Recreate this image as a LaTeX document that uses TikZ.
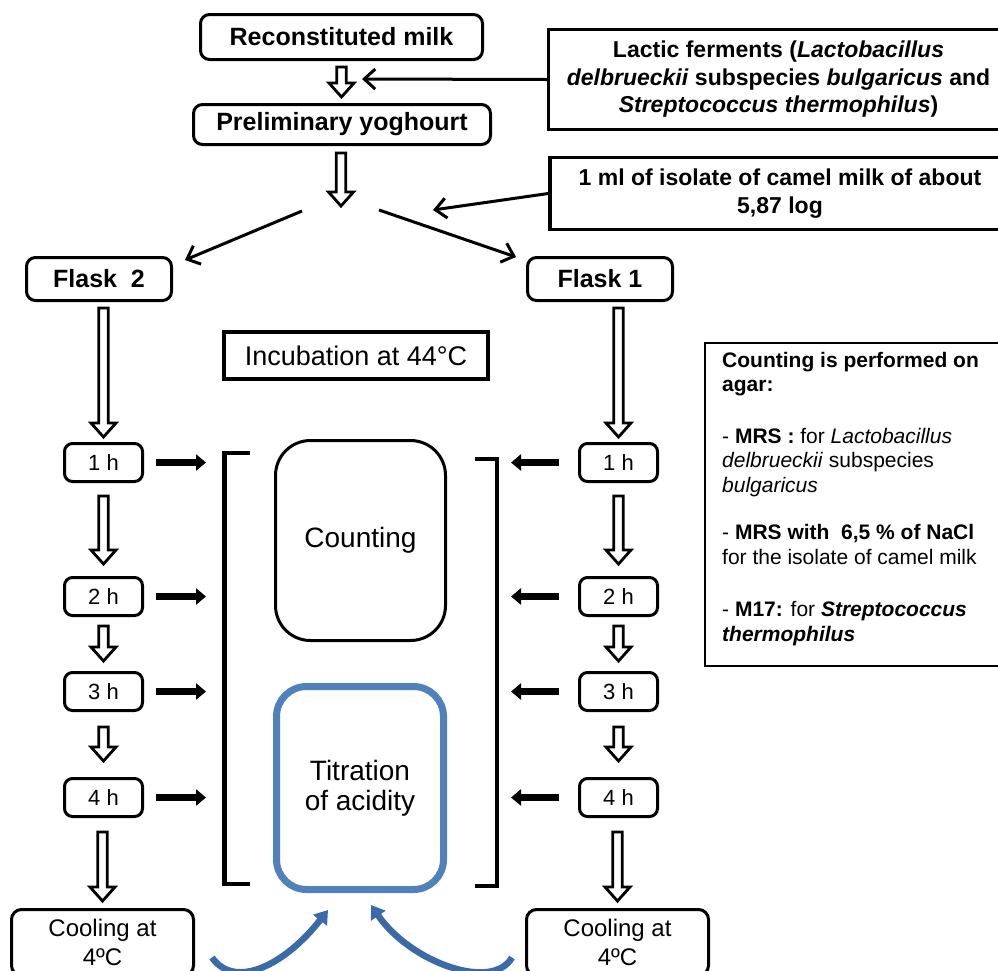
\documentclass[tikz,border=0pt]{standalone}
\usepackage{fontspec}
\setmainfont{Liberation Sans}
\usetikzlibrary{arrows.meta,calc}
\definecolor{titblue}{HTML}{4F81BD}
\definecolor{arrblue}{HTML}{3A6BA8}
\newcommand\hollowarr[2]{%
  \draw[hollow] let \p1=#1, \p2=#2 in
   (\x2-4.75pt,\y1) -- (\x2+4.75pt,\y1) -- (\x2+4.75pt,\y2+14pt) -- (\x2+12.5pt,\y2+14pt)
   -- (\x2,\y2) -- (\x2-12.5pt,\y2+14pt) -- (\x2-4.75pt,\y2+14pt) -- cycle;}
\begin{document}
\begin{tikzpicture}[x=1pt,y=-1pt,
  rbox/.style={draw, line width=3, rounded corners=9, inner sep=0, align=center},
  sbox/.style={draw, line width=3.5, inner sep=0, align=center},
  big/.style={font=\bfseries\fontsize{25}{30}\selectfont},
  mid/.style={font=\bfseries\fontsize{23}{27.5}\selectfont},
  hbox/.style={rbox, rounded corners=8, minimum width=78, minimum height=38, font=\fontsize{22}{26}\selectfont},
  coolbox/.style={rbox, rounded corners=10, minimum width=182, minimum height=66, font=\fontsize{24}{29}\selectfont},
  hollow/.style={draw, fill=white, line width=2.8, line join=miter},
  thinarrow/.style={draw, line width=3, -{Straight Barb[length=11pt,width=20pt]}},
  side/.style={draw, line width=7, -{Triangle[length=10pt,width=16pt]}},
  bluearrow/.style={draw=arrblue, line width=6.5, -{Triangle[length=13pt,width=17pt]}},
  bracket/.style={draw, line width=4.5, line join=miter}]
\useasboundingbox (0,0) rectangle (998,970);
\clip (0,0) rectangle (998,970);

% top boxes
\node[rbox, big, minimum width=282, minimum height=45] (rm) at (341.5,37) {Reconstituted milk};
\node[rbox, big, minimum width=297, minimum height=40] (py) at (342,124.5) {Preliminary yoghourt};
\node[sbox, mid, minimum width=460, minimum height=100] (lf) at (778.5,79.5)
  {Lactic ferments (\textit{Lactobacillus}\\\textit{delbrueckii} subspecies \textit{bulgaricus} and\\\textit{Streptococcus thermophilus})};
\node[sbox, mid, minimum width=460, minimum height=72] (iso) at (780,193.5)
  {1 ml of isolate of camel milk of about\\5,87 log};

\node[rbox, big, minimum width=145, minimum height=43] (f2) at (99,279) {Flask\ \ 2};
\node[rbox, big, minimum width=145, minimum height=43] (f1) at (600,279) {Flask 1};

\node[sbox, font=\fontsize{27}{32}\selectfont, minimum width=264, minimum height=47] (inc) at (356,355.5) {Incubation at 44°C};

% hour boxes
\node[hbox] (l1) at (103.5,462.5) {1 h};
\node[hbox] (l2) at (103.5,596.5) {2 h};
\node[hbox] (l3) at (103.5,691.5) {3 h};
\node[hbox] (l4) at (103.5,797.5) {4 h};
\node[hbox] (r1) at (618.5,462.5) {1 h};
\node[hbox] (r2) at (618.5,596.5) {2 h};
\node[hbox] (r3) at (618.5,691.5) {3 h};
\node[hbox] (r4) at (618.5,797.5) {4 h};

\node[coolbox] (cL) at (102.5,942.5) {Cooling at\\4ºC};
\node[coolbox] (cR) at (617.5,942.5) {Cooling at\\4ºC};

% central boxes
\node[draw, line width=3, rounded corners=35, minimum width=170, minimum height=200,
  font=\fontsize{28}{30}\selectfont] (cnt) at (360.5,540.5) {Counting};
\node[draw=titblue, line width=7, rounded corners=30, minimum width=167, minimum height=203,
  align=center, font=\fontsize{28}{30}\selectfont] (tit) at (360,788) {Titration\\of acidity};

% info box
\node[draw, line width=2, minimum width=304, minimum height=323, inner sep=0] (info) at (857,504.5) {};
\node[anchor=north west, inner sep=0, align=left, font=\fontsize{21}{24.5}\selectfont] (infotext) at (722,352)
 {\textbf{Counting is performed on}\\\textbf{agar:}\\[27pt]
  - \textbf{MRS :} for \textit{Lactobacillus}\\\textit{delbrueckii} subspecies\\\textit{bulgaricus}\\[23pt]
  - \textbf{MRS with\ \ 6,5 \% of NaCl}\\for the isolate of camel milk\\[28pt]
  - \textbf{M17:} for \textbf{\textit{Streptococcus}}\\\textbf{\textit{thermophilus}}};

% brackets
\draw[bracket] (250,453) -- (224.5,453) -- (224.5,884) -- (250,884);
\draw[bracket] (475,459) -- (497,459) -- (497,886) -- (475,886);

% coordinates
\coordinate (split) at (341,206);
\coordinate (spL) at (302,211);
\coordinate (spR) at (379,210);
\coordinate (lftip) at (362,79);
\coordinate (isotip) at (433,210);

% hollow arrows
\hollowarr{($(rm.south)+(0,6)$)}{(341.5,97)}
\hollowarr{($(py.south)+(0,7)$)}{(split)}
\hollowarr{($(f2.south)+(0,6)$)}{($(l1.north)+(0,-5)$)}
\hollowarr{($(l1.south)+(0,13)$)}{($(l2.north)+(0,-12)$)}
\hollowarr{($(l2.south)+(0,9)$)}{($(l3.north)+(0,-10)$)}
\hollowarr{($(l3.south)+(0,15)$)}{($(l4.north)+(0,-16)$)}
\hollowarr{($(l4.south)+(0,14)$)}{($(cL.north)+(0,-7)$)}
\hollowarr{($(f1.south)+(0,6)$)}{($(r1.north)+(0,-5)$)}
\hollowarr{($(r1.south)+(0,13)$)}{($(r2.north)+(0,-12)$)}
\hollowarr{($(r2.south)+(0,9)$)}{($(r3.north)+(0,-10)$)}
\hollowarr{($(r3.south)+(0,15)$)}{($(r4.north)+(0,-16)$)}
\hollowarr{($(r4.south)+(0,14)$)}{($(cR.north)+(0,-7)$)}

% thin arrows
\draw[thinarrow] (lf.west) -- (lftip);
\draw[thinarrow] (iso.west) -- (isotip);
\draw[thinarrow] (spL) -- ($(f2.north east)+(12,4)$);
\draw[thinarrow] (spR) -- ($(f1.north west)+(-10,1)$);

% side arrows
\foreach \n in {l1,l2,l3,l4}{\draw[side] ($(\n.east)+(12,0)$) -- ($(\n.east)+(62,0)$);}
\foreach \n in {r1,r2,r3,r4}{\draw[side] ($(\n.west)+(-19,0)$) -- ($(\n.west)+(-67,0)$);}

% blue curved arrows
\draw[bluearrow] ($(cL.east)+(17,15)$) .. controls (235,990) and (285,965) .. ($(tit.south)+(-32,17)$);
\draw[bluearrow] ($(cR.west)+(-13,15)$) .. controls (492,992) and (410,962) .. ($(tit.south)+(11,12)$);
\end{tikzpicture}
\end{document}
